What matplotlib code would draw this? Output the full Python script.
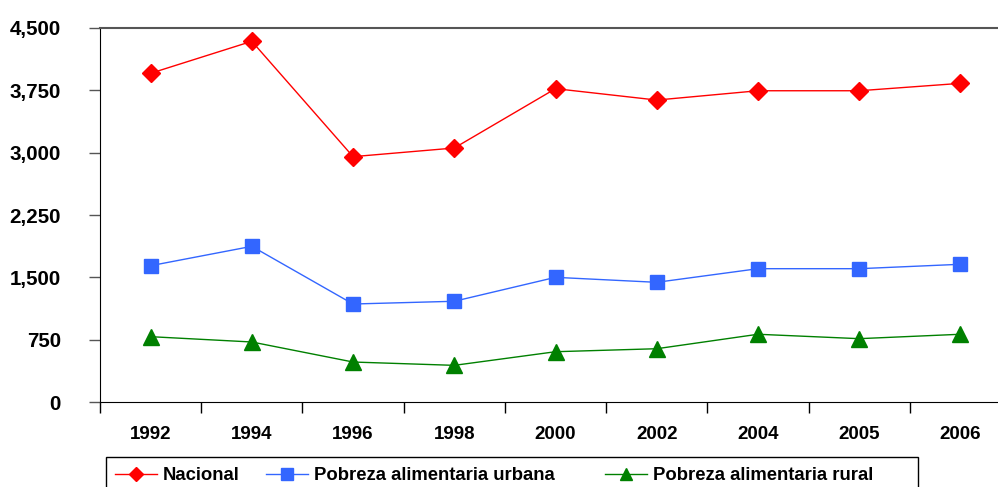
import numpy as np
import matplotlib
matplotlib.use("Agg")
import matplotlib.pyplot as plt
from matplotlib.lines import Line2D
from matplotlib.patches import Rectangle
from matplotlib.ticker import FuncFormatter

plt.rcParams['font.family'] = ['Liberation Sans', 'DejaVu Sans']

# data
years = ["1992", "1994", "1996", "1998", "2000", "2002", "2004", "2005", "2006"]
nacional = [3955, 4340, 2952, 3056, 3770, 3633, 3745, 3745, 3834]
urbana = [1640, 1873, 1179, 1212, 1500, 1440, 1604, 1604, 1657]
rural = [786, 722, 481, 441, 605, 641, 815, 762, 815]

series = [
    ("Nacional", nacional, "#FF0000", "D", 9, 7),
    ("Pobreza alimentaria urbana", urbana, "#3366FF", "s", 10, 8),
    ("Pobreza alimentaria rural", rural, "#008000", "^", 11, 9),
]

W, H = 998, 487
fig = plt.figure(figsize=(W / 100, H / 100), dpi=100)
ax = fig.add_axes([100 / W, 1 - 402 / H, 911 / W, 374 / H])

x = np.arange(len(years))
for name, vals, col, mk, ms, _ in series:
    ax.plot(x, vals, color=col, lw=1.0, marker=mk, ms=ms, mec=col)

ax.set_xlim(-0.5, len(years) - 0.5)
ax.set_ylim(0, 4500)
ax.set_yticks(np.arange(0, 4501, 750))
ax.yaxis.set_major_formatter(FuncFormatter(lambda v, p: f"{int(v):,}"))

# x labels centred on categories, ticks on category boundaries
ax.set_xticks(x)
ax.set_xticklabels(years, fontsize=13.5, fontweight="bold")
ax.tick_params(axis="x", which="major", length=0, pad=17)
ax.set_xticks(np.arange(-0.5, len(years), 1), minor=True)
ax.tick_params(axis="x", which="minor", length=8, width=1, color="black",
               direction="out")
ax.tick_params(axis="y", length=8, width=1, color="#555555", direction="out",
               pad=20, labelsize=14.8)
for lab in ax.get_yticklabels():
    lab.set_fontweight("bold")

ax.spines["left"].set_color("black")
ax.spines["bottom"].set_color("black")
ax.spines["top"].set_color("#555555")
ax.spines["top"].set_linewidth(1.5)
ax.spines["right"].set_visible(False)

# legend: frame plus one entry per series (Excel-style spacing)
fig.patches.append(Rectangle((106 / W, 1 - 495 / H), 812 / W, 38 / H,
                             transform=fig.transFigure, fill=False,
                             edgecolor="black", lw=1.0))
entry_x = [115, 266, 605]
for (name, vals, col, mk, ms, lms), ex in zip(series, entry_x):
    h = Line2D([], [], color=col, lw=1.0, marker=mk, ms=lms, mec=col)
    fig.legend([h], [name], loc="center left",
               bbox_to_anchor=(ex / W, 1 - 476 / H), frameon=False,
               prop={"weight": "bold", "size": 13.3}, handlelength=2.3,
               handletextpad=0.3, borderpad=0, borderaxespad=0)

fig.savefig("out.png", dpi=100)
